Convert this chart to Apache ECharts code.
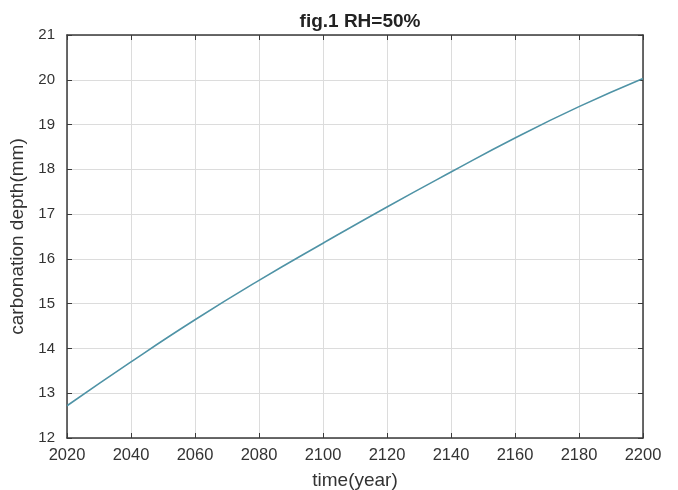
<!DOCTYPE html>
<html>
<head>
<meta charset="utf-8">
<script src="https://cdn.jsdelivr.net/npm/echarts@6/dist/echarts.min.js"></script>
<style>
  html, body { margin: 0; padding: 0; background: #fff; }
  #chart { width: 678px; height: 490px; }
</style>
</head>
<body>
<div id="chart"></div>
<script>
// Carbonation depth over time at RH = 50%
const years = [2020, 2040, 2060, 2080, 2100, 2120, 2140, 2160, 2180, 2200];
const depthMm = [12.72, 13.70, 14.64, 15.52, 16.35, 17.16, 17.94, 18.70, 19.40, 20.03];
const xTicks = [2020, 2040, 2060, 2080, 2100, 2120, 2140, 2160, 2180, 2200];
const yTicks = [12, 13, 14, 15, 16, 17, 18, 19, 20, 21];

const FONT = '"Liberation Sans", Arial, sans-serif';
const AXIS_COLOR = '#3a3a3a';
const TEXT_COLOR = '#333333';

const chart = echarts.init(document.getElementById('chart'), null, { renderer: 'canvas' });

// Top and right axes only close the box and carry inward ticks
const frameAxis = {
  axisLine: { show: true, lineStyle: { color: AXIS_COLOR, width: 1.5 } },
  axisTick: { show: true, inside: true, length: 5, lineStyle: { color: AXIS_COLOR } },
  splitLine: { show: false },
  axisLabel: { show: false }
};

chart.setOption({
  animation: false,
  backgroundColor: '#ffffff',
  title: {
    text: 'fig.1 RH=50%',
    left: 355,
    textAlign: 'center',
    top: 7,
    textStyle: { fontFamily: FONT, fontSize: 19, fontWeight: 'bold', color: '#222' }
  },
  grid: { left: 67, right: 35, top: 35, bottom: 52, outerBoundsMode: 'none', containLabel: false },
  xAxis: [
    {
      type: 'value',
      min: xTicks[0],
      max: xTicks[xTicks.length - 1],
      interval: 20,
      position: 'bottom',
      name: 'time(year)',
      nameLocation: 'middle',
      nameGap: 33,
      nameTextStyle: { fontFamily: FONT, fontSize: 19, color: TEXT_COLOR },
      axisLine: { show: true, lineStyle: { color: AXIS_COLOR, width: 1.5 } },
      axisTick: { show: true, inside: true, length: 5, lineStyle: { color: AXIS_COLOR } },
      axisLabel: {
        fontFamily: FONT, fontSize: 16.5, color: TEXT_COLOR, margin: 9,
        formatter: v => String(v)
      },
      splitLine: { show: true, lineStyle: { color: '#dcdcdc', width: 1 } }
    },
    Object.assign({
      type: 'value',
      min: xTicks[0],
      max: xTicks[xTicks.length - 1],
      interval: 20,
      position: 'top'
    }, frameAxis)
  ],
  yAxis: [
    {
      type: 'value',
      min: yTicks[0],
      max: yTicks[yTicks.length - 1],
      interval: 1,
      position: 'left',
      name: 'carbonation depth(mm)',
      nameLocation: 'middle',
      nameGap: 35,
      nameTextStyle: { fontFamily: FONT, fontSize: 19, color: TEXT_COLOR },
      axisLine: { show: true, lineStyle: { color: AXIS_COLOR, width: 1.5 } },
      axisTick: { show: true, inside: true, length: 5, lineStyle: { color: AXIS_COLOR } },
      axisLabel: {
        fontFamily: FONT, fontSize: 15, color: TEXT_COLOR, margin: 12,
        formatter: v => String(v)
      },
      splitLine: { show: true, lineStyle: { color: '#dcdcdc', width: 1 } }
    },
    Object.assign({
      type: 'value',
      min: yTicks[0],
      max: yTicks[yTicks.length - 1],
      interval: 1,
      position: 'right'
    }, frameAxis)
  ],
  series: [
    {
      type: 'line',
      xAxisIndex: 0,
      yAxisIndex: 0,
      data: years.map((y, i) => [y, depthMm[i]]),
      smooth: true,
      showSymbol: false,
      lineStyle: { color: '#4f93a6', width: 1.6 }
    }
  ]
});
</script>
</body>
</html>
